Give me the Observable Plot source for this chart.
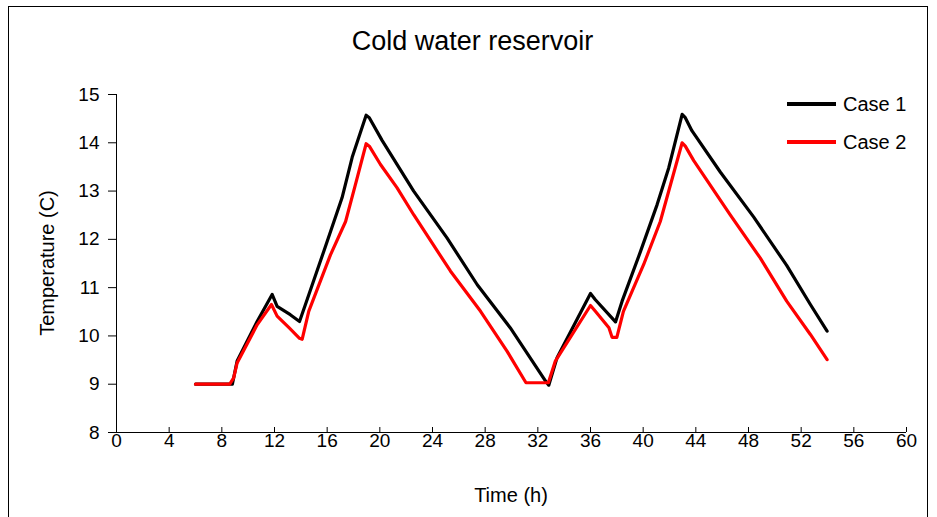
<!DOCTYPE html>
<html>
<head>
<meta charset="utf-8">
<script src="https://cdn.jsdelivr.net/npm/d3@7"></script>
<script src="https://cdn.jsdelivr.net/npm/@observablehq/plot@0.6"></script>
<style>
  html, body { margin: 0; padding: 0; background: #fff; }
  #wrap { position: relative; width: 937px; height: 517px; overflow: hidden; font-family: "Liberation Sans", Arial, sans-serif; color: #000; }
  #frame { position: absolute; left: 8px; top: 6px; width: 920px; height: 600px; border: 1.5px solid #000; box-sizing: border-box; }
  #title { position: absolute; left: 0; top: 25px; width: 945px; text-align: center; font-size: 27px; line-height: 32px; }
  #xlabel { position: absolute; left: 311px; top: 483px; width: 400px; text-align: center; font-size: 20px; line-height: 24px; }
  #ylabel { position: absolute; left: 47px; top: 263px; width: 300px; margin-left: -150px; margin-top: -12px; text-align: center; font-size: 20px; line-height: 24px; transform: rotate(-90deg); }
  #chart { position: absolute; left: 0; top: 0; }
  .lg { position: absolute; left: 787px; width: 140px; height: 24px; font-size: 20px; }
  .lg span.sw { position: absolute; left: 0; top: 10px; width: 49px; height: 4px; }
  .lg span.tx { position: absolute; left: 56px; top: 0; line-height: 24px; }
</style>
</head>
<body>
<div id="wrap">
  <div id="frame"></div>
  <div id="chart"></div>
  <div id="title"></div>
  <div id="xlabel"></div>
  <div id="ylabel"></div>
  <div id="legend"></div>
</div>
<script>
const chartTitle = "Cold water reservoir";
const xLabel = "Time (h)";
const yLabel = "Temperature (C)";
const seriesNames = ["Case 1", "Case 2"];
const seriesColors = ["#000000", "#ff0000"];
const xTicks = [0, 4, 8, 12, 16, 20, 24, 28, 32, 36, 40, 44, 48, 52, 56, 60];
const yTicks = [8, 9, 10, 11, 12, 13, 14, 15];

const case1Hours = [6, 8.8, 9.16, 10.68, 11.82, 12.2, 13.2, 13.9, 14.35, 15.74, 17.13, 17.9, 18.96, 19.2, 20.17, 22.57, 25.1, 27.4, 29.9, 32.6, 32.83, 33.46, 36.0, 36.37, 37.9, 38.4, 39.8, 41.06, 41.94, 42.96, 43.2, 43.7, 45.87, 48.4, 50.9, 52.7, 53.97];
const case1Temp  = [9, 9, 9.48, 10.30, 10.86, 10.61, 10.44, 10.30, 10.65, 11.75, 12.86, 13.70, 14.57, 14.52, 14.05, 13.0, 12.03, 11.06, 10.17, 9.06, 8.98, 9.55, 10.88, 10.75, 10.29, 10.72, 11.75, 12.72, 13.48, 14.59, 14.52, 14.25, 13.39, 12.46, 11.46, 10.65, 10.1];

const case2Hours = [6, 8.6, 8.9, 9.16, 10.68, 11.77, 12.2, 13.1, 13.9, 14.1, 14.6, 16.25, 17.4, 18.14, 18.96, 19.2, 20.05, 21.3, 22.57, 25.37, 27.65, 29.67, 31.1, 32.8, 33.33, 36.0, 36.37, 37.4, 37.64, 38.0, 38.5, 40.04, 41.3, 42.96, 43.2, 43.84, 46.6, 48.9, 50.9, 52.7, 53.97];
const case2Temp  = [9, 9, 9.13, 9.44, 10.23, 10.65, 10.41, 10.17, 9.95, 9.93, 10.51, 11.68, 12.37, 13.13, 13.98, 13.93, 13.55, 13.07, 12.51, 11.34, 10.51, 9.68, 9.03, 9.03, 9.48, 10.63, 10.51, 10.17, 9.97, 9.97, 10.51, 11.48, 12.37, 14.0, 13.93, 13.63, 12.51, 11.61, 10.72, 10.03, 9.51];

const case1 = case1Hours.map((h, i) => ({h, t: case1Temp[i]}));
const case2 = case2Hours.map((h, i) => ({h, t: case2Temp[i]}));

const plot = Plot.plot({
  width: 937,
  height: 517,
  marginLeft: 116,
  marginRight: 31,
  marginTop: 94,
  marginBottom: 85,
  style: { fontFamily: "'Liberation Sans', Arial, sans-serif", background: "transparent", color: "#000" },
  x: { domain: [0, 60] },
  y: { domain: [8, 15] },
  marks: [
    Plot.axisY({ ticks: yTicks, tickFormat: d3.format("d"), tickSize: 8, tickPadding: 9, fontSize: 19, label: null, stroke: "#000" }),
    Plot.axisX({ ticks: xTicks, tickFormat: d3.format("d"), tickSize: -5, tickPadding: 6, fontSize: 19, label: null, stroke: "#000" }),
    Plot.ruleX([0], { stroke: "#000", strokeWidth: 1 }),
    Plot.ruleY([8], { stroke: "#000", strokeWidth: 1 }),
    Plot.line(case1, { x: "h", y: "t", stroke: seriesColors[0], strokeWidth: 3.2, strokeLinejoin: "round", strokeLinecap: "round" }),
    Plot.line(case2, { x: "h", y: "t", stroke: seriesColors[1], strokeWidth: 3.2, strokeLinejoin: "round", strokeLinecap: "round" })
  ]
});
document.getElementById("chart").appendChild(plot);
document.getElementById("title").textContent = chartTitle;
document.getElementById("xlabel").textContent = xLabel;
document.getElementById("ylabel").textContent = yLabel;

const lg = document.getElementById("legend");
const tops = [92, 130];
seriesNames.forEach((n, i) => {
  const d = document.createElement("div");
  d.className = "lg";
  d.style.top = tops[i] + "px";
  d.innerHTML = `<span class="sw" style="background:${seriesColors[i]}"></span><span class="tx"></span>`;
  d.querySelector(".tx").textContent = n;
  lg.appendChild(d);
});
</script>
</body>
</html>
